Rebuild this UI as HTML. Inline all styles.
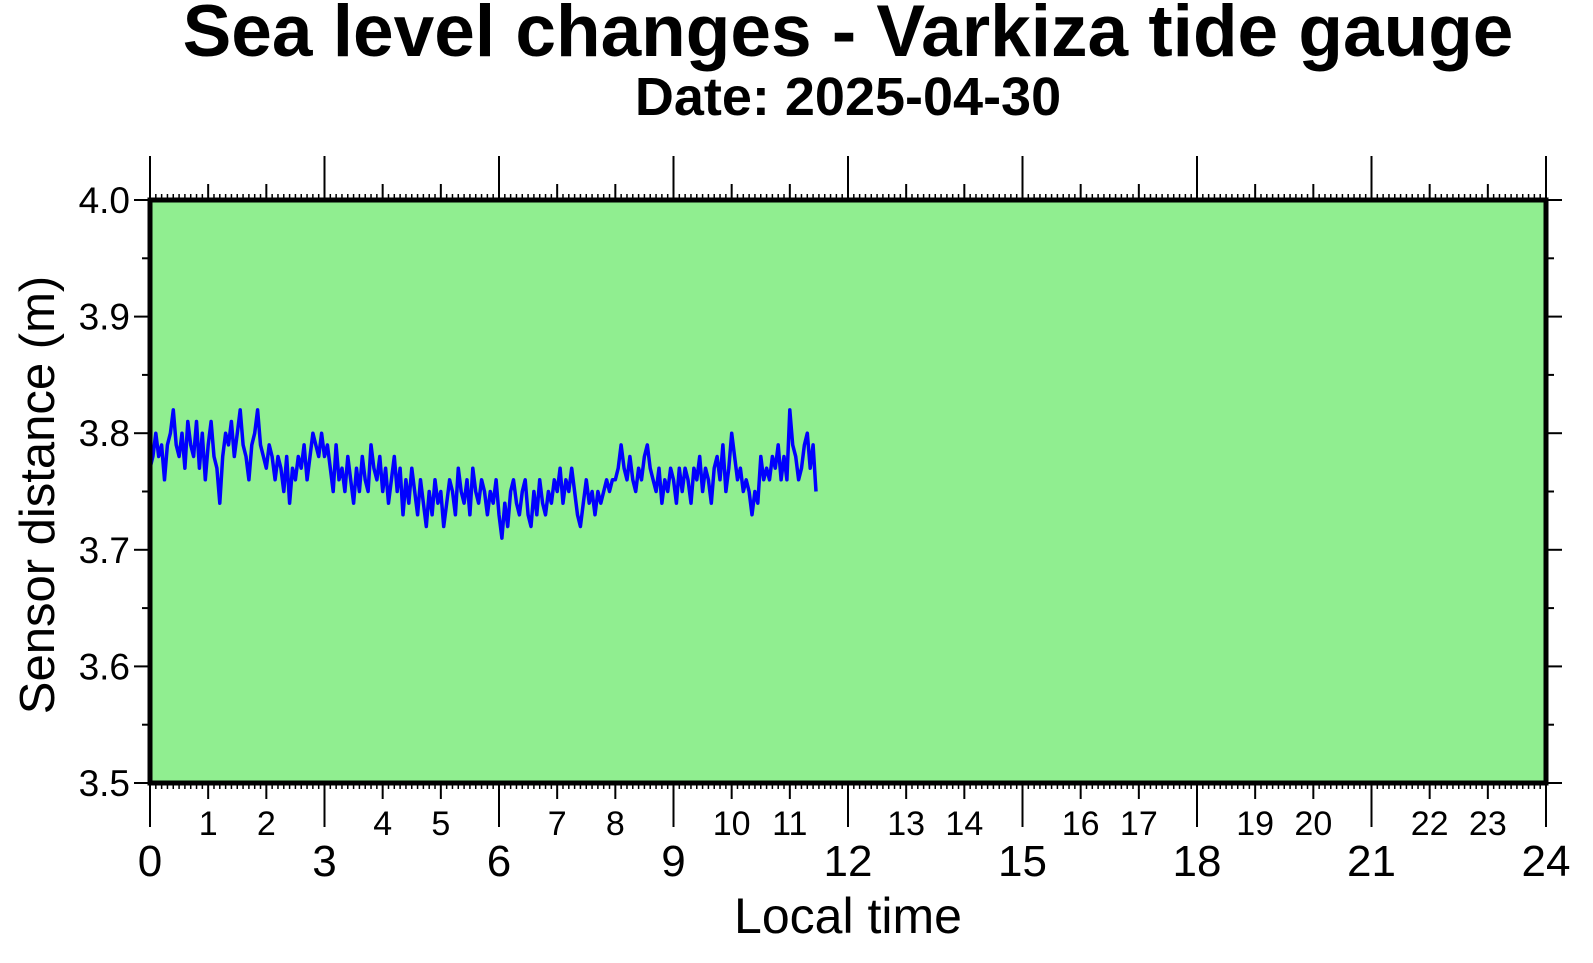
<!DOCTYPE html>
<html><head><meta charset="utf-8"><style>
html,body{margin:0;padding:0;background:#fff;}
svg{display:block;font-family:"Liberation Sans",sans-serif;}
</style></head><body>
<svg id="chart" width="1593" height="963" viewBox="0 0 1593 963" xmlns="http://www.w3.org/2000/svg">
<text x="848" y="56" text-anchor="middle" font-size="73" font-weight="bold">Sea level changes - Varkiza tide gauge</text>
<text x="848" y="115" text-anchor="middle" font-size="54" font-weight="bold">Date: 2025-04-30</text>
<rect x="150" y="200" width="1396" height="583" fill="#90ee90"/>
<g id="axes"></g>
<polyline id="series" fill="none" stroke="#0000ff" stroke-width="3.5" stroke-linejoin="round"/>
<rect x="150" y="200" width="1396" height="583" fill="none" stroke="#000" stroke-width="5"/>
<text x="848" y="933" text-anchor="middle" font-size="50">Local time</text>
<text transform="translate(54,495) rotate(-90)" text-anchor="middle" font-size="49">Sensor distance (m)</text>
</svg>
<script>
const yTicks = [3.5, 3.6, 3.7, 3.8, 3.9, 4.0];
const yTickLabels = ["3.5", "3.6", "3.7", "3.8", "3.9", "4.0"];
const hourLabels = [1,2,4,5,7,8,10,11,13,14,16,17,19,20,22,23];
const majorHourLabels = [0,3,6,9,12,15,18,21,24];
const timeStep = 0.05;
const levels = [
3.77,3.78,3.80,3.78,3.79,3.76,3.79,3.80,3.82,3.79,3.78,3.80,3.77,3.81,3.79,3.78,3.81,3.77,3.80,3.76,
3.79,3.81,3.78,3.77,3.74,3.78,3.80,3.79,3.81,3.78,3.80,3.82,3.79,3.78,3.76,3.79,3.80,3.82,3.79,3.78,
3.77,3.79,3.78,3.76,3.78,3.77,3.75,3.78,3.74,3.77,3.76,3.78,3.77,3.79,3.76,3.78,3.80,3.79,3.78,3.80,
3.78,3.79,3.77,3.75,3.79,3.76,3.77,3.75,3.78,3.76,3.74,3.77,3.75,3.78,3.76,3.75,3.79,3.77,3.76,3.78,
3.75,3.77,3.74,3.76,3.78,3.75,3.77,3.73,3.76,3.74,3.77,3.75,3.73,3.76,3.74,3.72,3.75,3.73,3.76,3.74,
3.75,3.72,3.74,3.76,3.75,3.73,3.77,3.75,3.74,3.76,3.73,3.77,3.75,3.74,3.76,3.75,3.73,3.75,3.74,3.76,
3.73,3.71,3.74,3.72,3.75,3.76,3.74,3.73,3.75,3.76,3.73,3.72,3.75,3.73,3.76,3.74,3.73,3.75,3.74,3.76,
3.75,3.77,3.74,3.76,3.75,3.77,3.75,3.73,3.72,3.74,3.76,3.74,3.75,3.73,3.75,3.74,3.75,3.76,3.75,3.76,
3.76,3.77,3.79,3.77,3.76,3.78,3.76,3.75,3.77,3.76,3.78,3.79,3.77,3.76,3.75,3.77,3.74,3.76,3.75,3.77,
3.76,3.74,3.77,3.75,3.77,3.76,3.74,3.77,3.76,3.78,3.75,3.77,3.76,3.74,3.77,3.78,3.76,3.79,3.75,3.77,
3.80,3.78,3.76,3.77,3.75,3.76,3.75,3.73,3.75,3.74,3.78,3.76,3.77,3.76,3.78,3.77,3.79,3.76,3.78,3.76,
3.82,3.79,3.78,3.76,3.77,3.79,3.80,3.77,3.79,3.75];

const X0=150,X1=1546,Y0=783,Y1=200;
const xs = h => X0 + (h/24)*(X1-X0);
const ys = v => Y0 - (v-3.5)/0.5*(Y0-Y1);
const NS="http://www.w3.org/2000/svg";
const axes=document.getElementById('axes');
function mk(tag, attrs){const e=document.createElementNS(NS,tag);for(const k in attrs)e.setAttribute(k,attrs[k]);return e;}
for(let i=0;i<=240;i++){
  const h=i/10, x=xs(h);
  let len=4;
  if(i%30===0) len=42; else if(i%10===0) len=14;
  const t1=mk('line',{x1:x,x2:x,y1:Y1-2,y2:Y1-2-len,stroke:'#000','stroke-width':len>4?2:1.5});
  
  
  axes.appendChild(t1);
  const t2=mk('line',{x1:x,x2:x,y1:Y0+2,y2:Y0+2+len,stroke:'#000','stroke-width':len>4?2:1.5});
  
  
  axes.appendChild(t2);
}
hourLabels.forEach(h=>{
  const t=mk('text',{x:xs(h),y:835,'text-anchor':'middle','font-size':34});
  t.textContent=h;
  
  
  axes.appendChild(t);
});
majorHourLabels.forEach(h=>{
  const t=mk('text',{x:xs(h),y:876,'text-anchor':'middle','font-size':44});
  t.textContent=h;
  
  
  axes.appendChild(t);
});
for(let v=3.5;v<=4.0001;v+=0.05){
  const major=Math.abs(Math.round(v*10)-v*10)<1e-6;
  const y=ys(v), len=major?14:6;
  const a=mk('line',{x1:X0-2,x2:X0-2-len,y1:y,y2:y,stroke:'#000','stroke-width':2});
  
  
  axes.appendChild(a);
  const b=mk('line',{x1:X1+2,x2:X1+2+len,y1:y,y2:y,stroke:'#000','stroke-width':2});
  
  
  axes.appendChild(b);
}
yTicks.forEach((v,i)=>{
  const t=mk('text',{x:130,y:ys(v)+13,'text-anchor':'end','font-size':37});
  t.textContent=yTickLabels[i];
  
  
  axes.appendChild(t);
});
document.getElementById('series').setAttribute('points',
  levels.map((v,i)=>xs(i*timeStep).toFixed(1)+','+ys(v).toFixed(1)).join(' '));
</script>
</body></html>
